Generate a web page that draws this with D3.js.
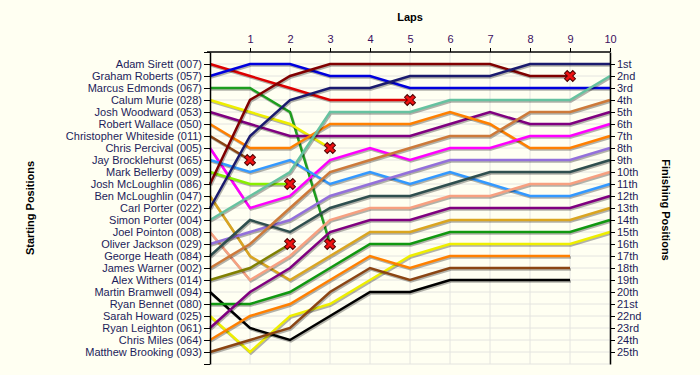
<!DOCTYPE html>
<html>
<head>
<meta charset="utf-8">
<script src="https://cdn.jsdelivr.net/npm/d3@7"></script>
<style>
  body { margin: 0; background: #fffff2; }
  text { font-family: Arial, "Liberation Sans", sans-serif; }
</style>
</head>
<body>
<div id="chart"></div>
<script>
"use strict";
let width = 700;
let height = 375;

// starting grid, one name per row
let driverNames = ["Adam Sirett (007)", "Graham Roberts (057)", "Marcus Edmonds (067)", "Calum Murie (028)",
  "Josh Woodward (053)", "Robert Wallace (050)", "Christopher Whiteside (011)", "Chris Percival (005)",
  "Jay Brocklehurst (065)", "Mark Bellerby (009)", "Josh McLoughlin (086)", "Ben McLoughlin (047)",
  "Carl Porter (022)", "Simon Porter (004)", "Joel Pointon (008)", "Oliver Jackson (029)",
  "George Heath (084)", "James Warner (002)", "Alex Withers (014)", "Martin Bramwell (094)",
  "Ryan Bennet (080)", "Sarah Howard (025)", "Ryan Leighton (061)", "Chris Miles (064)",
  "Matthew Brooking (093)"];

let lineColors = ["#dd0000", "#0000dd", "#1e9e1e", "#eeee00", "#800080", "#ff8000", "#8b4513", "#ff00ff",
  "#3399ff", "#88ee00", "#800000", "#daa520", "#1a1a6e", "#66c2a0", "#f7a080", "#9370db",
  "#2f4f4f", "#cd7a3a", "#808000", "#000000", "#109810", "#eeee00", "#800080", "#ff8000", "#8b4513"];

// position after each lap (index 0 = start)
let positions = [
  [1, 2, 3, 4, 4, 4],
  [2, 1, 1, 2, 2, 3, 3, 3, 3, 3, 3],
  [3, 3, 5, 16],
  [4, 5, 6, 8],
  [5, 6, 7, 7, 7, 7, 6, 5, 6, 6, 5],
  [6, 8, 8, 6, 6, 6, 5, 6, 8, 8, 7],
  [7, 9],
  [8, 13, 12, 9, 8, 9, 8, 8, 7, 7, 6],
  [9, 10, 9, 11, 10, 11, 10, 11, 12, 12, 11],
  [10, 11, 11],
  [11, 4, 2, 1, 1, 1, 1, 1, 2, 2],
  [12, 17, 19, 17, 15, 15, 14, 14, 14, 14, 13],
  [13, 7, 4, 3, 3, 2, 2, 2, 1, 1, 1],
  [14, 12, 10, 5, 5, 5, 4, 4, 4, 4, 2],
  [15, 19, 17, 14, 13, 13, 12, 12, 11, 11, 10],
  [16, 15, 14, 12, 11, 10, 9, 9, 9, 9, 8],
  [17, 14, 15, 13, 12, 12, 11, 10, 10, 10, 9],
  [18, 16, 13, 10, 9, 8, 7, 7, 5, 5, 4],
  [19, 18, 16],
  [20, 23, 24, 22, 20, 20, 19, 19, 19, 19],
  [21, 21, 20, 18, 16, 16, 15, 15, 15, 15, 14],
  [22, 25, 22, 21, 19, 17, 16, 16, 16, 16, 15],
  [23, 20, 18, 15, 14, 14, 13, 13, 13, 13, 12],
  [24, 22, 21, 19, 17, 18, 17, 17, 17, 17],
  [25, 24, 23, 20, 18, 19, 18, 18, 18, 18]
];

// drivers who retired (cross on last point)
let retired = [true, false, true, true, false, false, true, false, false, true, true, false, false,
  false, false, false, false, false, true, false, false, false, false, false, false];

let laps = [1, 2, 3, 4, 5, 6, 7, 8, 9, 10];
let finishLabels = ["1st", "2nd", "3rd", "4th", "5th", "6th", "7th", "8th", "9th", "10th", "11th", "12th",
  "13th", "14th", "15th", "16th", "17th", "18th", "19th", "20th", "21st", "22nd", "23rd", "24th", "25th"];

let xScale = d3.scaleLinear().domain([0, 10]).range([210, 610]);
let yScale = d3.scaleLinear().domain([0, 26]).range([52, 364]);
let rows = d3.range(1, 26);

let svg = d3.select("#chart")
  .append("svg")
  .attr("width", width)
  .attr("height", height);

svg.append("rect")
  .attr("width", width)
  .attr("height", height)
  .attr("fill", "#fffff2");

// grid
svg.append("g")
  .selectAll("line")
  .data(rows.concat([26]))
  .enter()
  .append("line")
  .attr("x1", xScale(0))
  .attr("x2", xScale(10))
  .attr("y1", function(d) { return yScale(d); })
  .attr("y2", function(d) { return yScale(d); })
  .attr("stroke", "#e4e4e0")
  .attr("stroke-width", 1);

svg.append("g")
  .selectAll("line")
  .data(laps)
  .enter()
  .append("line")
  .attr("x1", function(d) { return xScale(d); })
  .attr("x2", function(d) { return xScale(d); })
  .attr("y1", yScale(0))
  .attr("y2", yScale(26))
  .attr("stroke", "#e4e4e0")
  .attr("stroke-width", 1);

// lines
let line = d3.line()
  .x(function(d, i) { return xScale(i); })
  .y(function(d) { return yScale(d); });

let series = svg.append("g")
  .selectAll("g")
  .data(positions)
  .enter()
  .append("g");

series.append("path")
  .attr("d", function(d) { return line(d); })
  .attr("transform", "translate(1,1.5)")
  .attr("fill", "none")
  .attr("stroke", "rgba(0,0,0,0.3)")
  .attr("stroke-width", 2.5);

series.append("path")
  .attr("d", function(d) { return line(d); })
  .attr("fill", "none")
  .attr("stroke", function(d, i) { return lineColors[i]; })
  .attr("stroke-width", 2.5);

// retirement crosses
let crossSymbol = d3.symbol().type(d3.symbolCross).size(75);
svg.append("g")
  .selectAll("path")
  .data(positions.filter(function(d, i) { return retired[i]; }))
  .enter()
  .append("path")
  .attr("d", crossSymbol)
  .attr("transform", function(d) {
    return "translate(" + xScale(d.length - 1) + "," + yScale(d[d.length - 1]) + ") rotate(45)";
  })
  .attr("fill", "#ee1111")
  .attr("stroke", "#4a0000")
  .attr("stroke-width", 1);

// axes
let topAxis = d3.axisTop(xScale).tickValues(laps).tickSize(4).tickSizeOuter(0).tickFormat(d3.format("d"));
let leftAxis = d3.axisLeft(yScale).tickValues(d3.range(0, 27)).tickSize(6).tickSizeOuter(0)
  .tickFormat(function(d) { return driverNames[d - 1] || ""; });
let rightAxis = d3.axisRight(yScale).tickValues(rows).tickSize(5).tickSizeOuter(0)
  .tickFormat(function(d) { return finishLabels[d - 1]; });

let gTop = svg.append("g")
  .attr("transform", "translate(0," + yScale(0) + ")")
  .call(topAxis);
let gLeft = svg.append("g")
  .attr("transform", "translate(" + xScale(0) + ",0)")
  .call(leftAxis);
let gRight = svg.append("g")
  .attr("transform", "translate(" + xScale(10) + ",0)")
  .call(rightAxis);

[gTop, gLeft, gRight].forEach(function(g) {
  g.selectAll("path.domain").attr("stroke", "#000").attr("stroke-width", 1.5);
  g.selectAll(".tick line").attr("stroke", "#000");
  g.selectAll(".tick text").style("font-family", "Arial, 'Liberation Sans', sans-serif").style("font-size", "11px");
});
gTop.select("path.domain").attr("d", "M" + (xScale(0) - 3) + ",0H" + xScale(10));
gTop.selectAll(".tick text").attr("fill", "#3c1060").attr("dy", "-0.2em");
gLeft.selectAll(".tick text").attr("fill", "#1c1c5a").attr("x", -8);
gRight.selectAll(".tick text").attr("fill", "#1c1c5a").attr("x", 7);

// titles
svg.append("text")
  .attr("x", 410)
  .attr("y", 21)
  .attr("text-anchor", "middle")
  .style("font-size", "11px")
  .style("font-weight", "bold")
  .text("Laps");

svg.append("text")
  .attr("transform", "translate(34,208) rotate(-90)")
  .attr("text-anchor", "middle")
  .style("font-size", "11px")
  .style("font-weight", "bold")
  .text("Starting Positions");

svg.append("text")
  .attr("transform", "translate(662,210) rotate(90)")
  .attr("text-anchor", "middle")
  .style("font-size", "11px")
  .style("font-weight", "bold")
  .text("Finishing Positions");
</script>
</body>
</html>
